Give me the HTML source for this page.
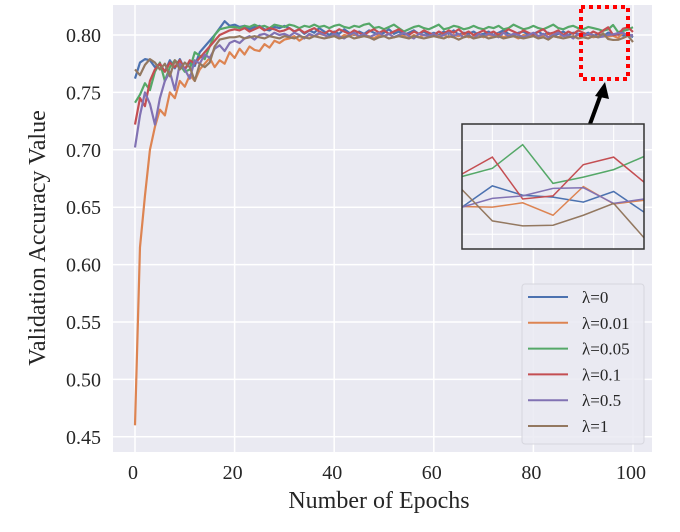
<!DOCTYPE html>
<html><head><meta charset="utf-8"><style>
body{margin:0;background:#fff;width:680px;height:527px;overflow:hidden}
svg text{font-family:"Liberation Serif",serif;fill:#262626}
</style></head><body>
<svg id="chart" width="680" height="527" xmlns="http://www.w3.org/2000/svg">
<rect x="113" y="5" width="539" height="447" fill="#eaeaf2"/>
<g id="grid"></g><g id="ticks"></g><g id="lines"></g>
<text x="379" y="508" font-size="24" text-anchor="middle">Number of Epochs</text>
<text transform="translate(45,238) rotate(-90)" font-size="24" text-anchor="middle">Validation Accuracy Value</text>
<rect x="581" y="7" width="47" height="72" fill="none" stroke="#ff0000" stroke-width="4" stroke-dasharray="4,4"/>
<line x1="590" y1="124" x2="601" y2="94" stroke="#000" stroke-width="4"/>
<polygon points="605,82 595,96 609,99" fill="#000"/>
<g id="inset"></g>
<g id="legend"></g>
</svg>
<script>
const epochs = Array.from({length:101},(_, i)=>i);
const labels = ["λ=0","λ=0.01","λ=0.05","λ=0.1","λ=0.5","λ=1"];
const xTicks = [0,20,40,60,80,100];
const yTicks = [0.45,0.50,0.55,0.60,0.65,0.70,0.75,0.80];
const s0 = [.762,.776,.779,.778,.772,.775,.768,.778,.771,.779,.770,.776,.773,.785,.790,.795,.800,.806,.812,.808,.809,.807,.808,.805,.807,.808,.805,.804,.807,.806,.808,.806,.803,.805,.801,.804,.802,.806,.803,.800,.803,.801,.805,.802,.800,.803,.801,.804,.802,.800,.802,.805,.801,.803,.800,.802,.804,.801,.803,.800,.802,.800,.803,.801,.804,.800,.802,.801,.803,.800,.801,.803,.800,.802,.804,.801,.799,.802,.803,.800,.801,.803,.800,.802,.799,.801,.803,.800,.802,.801,.800,.802,.799,.801,.7987,.8021,.8006,.8003,.7995,.8012,.7979];
const s1 = [.460,.615,.660,.700,.720,.735,.730,.750,.745,.760,.755,.765,.760,.770,.775,.780,.772,.778,.775,.785,.780,.788,.783,.790,.787,.786,.792,.789,.795,.793,.796,.797,.799,.795,.798,.800,.799,.801,.800,.798,.800,.797,.800,.799,.801,.798,.800,.799,.797,.800,.799,.801,.798,.800,.799,.797,.800,.798,.800,.799,.801,.799,.800,.798,.800,.799,.801,.798,.799,.800,.798,.800,.799,.801,.798,.800,.799,.797,.800,.799,.800,.798,.799,.801,.799,.798,.800,.799,.798,.800,.799,.800,.798,.799,.7988,.7987,.7994,.7974,.8020,.7992,.7998];
const s2 = [.741,.748,.758,.752,.768,.776,.760,.772,.778,.774,.768,.770,.785,.782,.779,.790,.800,.805,.806,.807,.807,.806,.808,.807,.809,.807,.808,.806,.809,.808,.807,.809,.808,.806,.808,.807,.809,.807,.808,.806,.808,.809,.807,.806,.808,.807,.809,.810,.806,.807,.805,.807,.809,.806,.803,.805,.807,.808,.806,.805,.807,.809,.805,.806,.808,.807,.805,.806,.808,.806,.805,.807,.806,.808,.805,.806,.809,.807,.805,.806,.808,.806,.805,.807,.809,.806,.805,.807,.808,.806,.805,.807,.806,.805,.8036,.8049,.8087,.8025,.8035,.8047,.8068];
const s3 = [.722,.745,.738,.760,.770,.775,.768,.776,.772,.778,.770,.778,.775,.780,.785,.790,.795,.800,.802,.804,.805,.804,.806,.803,.805,.807,.804,.806,.805,.803,.804,.806,.803,.805,.802,.804,.806,.803,.801,.804,.802,.805,.803,.801,.804,.802,.800,.803,.805,.802,.804,.801,.803,.805,.802,.800,.803,.801,.804,.802,.800,.803,.801,.804,.802,.805,.801,.803,.800,.802,.804,.801,.803,.800,.802,.805,.803,.801,.804,.802,.800,.803,.805,.801,.802,.804,.800,.803,.801,.804,.802,.800,.803,.801,.8040,.8067,.8000,.8005,.8055,.8067,.8027];
const s4 = [.702,.730,.750,.740,.722,.745,.760,.768,.752,.775,.770,.762,.778,.775,.783,.780,.788,.791,.786,.793,.795,.793,.797,.799,.796,.800,.801,.799,.802,.800,.801,.799,.802,.800,.797,.801,.799,.802,.800,.798,.801,.799,.797,.800,.802,.799,.801,.798,.800,.802,.799,.801,.798,.800,.802,.799,.797,.801,.800,.799,.801,.798,.800,.802,.799,.801,.798,.800,.797,.801,.799,.801,.800,.798,.802,.799,.801,.800,.798,.800,.802,.799,.801,.798,.800,.802,.799,.800,.797,.801,.799,.801,.800,.798,.7987,.8001,.8005,.8017,.8018,.7993,.8000];
const s5 = [.770,.765,.774,.779,.776,.770,.775,.764,.778,.770,.776,.772,.760,.775,.772,.776,.790,.796,.797,.798,.798,.799,.797,.798,.799,.798,.797,.799,.798,.797,.799,.798,.797,.799,.798,.797,.799,.798,.797,.798,.799,.797,.798,.799,.797,.798,.799,.798,.796,.798,.799,.797,.798,.799,.798,.797,.799,.798,.797,.798,.799,.798,.797,.799,.798,.796,.798,.799,.797,.798,.799,.797,.798,.799,.797,.798,.799,.798,.797,.798,.799,.797,.798,.796,.799,.798,.797,.798,.799,.797,.798,.797,.799,.798,.8015,.7965,.7957,.7958,.7974,.7993,.7938];
const series = [s0,s1,s2,s3,s4,s5];
const colors = ["#4c72b0","#dd8452","#55a868","#c44e52","#8172b3","#937860"];
const NS="http://www.w3.org/2000/svg";
function mk(tag,attrs,parent){const e=document.createElementNS(NS,tag);for(const k in attrs)e.setAttribute(k,attrs[k]);parent.appendChild(e);return e;}
const xs = v => 135 + v*4.98;
const ys = v => 35 + (0.8 - v)/0.05*57.4;
const grid=document.getElementById('grid'), ticks=document.getElementById('ticks'), lines=document.getElementById('lines');
xTicks.forEach(t=>{
  const g=mk('line',{x1:xs(t),x2:xs(t),y1:5,y2:452,stroke:'#fff','stroke-width':1.5},grid);
  
  
  const tx=mk('text',{x:xs(t)-2,y:479,'font-size':20,'text-anchor':'middle'},ticks);
  tx.textContent=t;
  
  
});
yTicks.forEach(t=>{
  const g=mk('line',{x1:113,x2:652,y1:ys(t),y2:ys(t),stroke:'#fff','stroke-width':1.5},grid);
  
  
  const tx=mk('text',{x:101,y:ys(t)+7,'font-size':20,'text-anchor':'end'},ticks);
  tx.textContent=t.toFixed(2);
  
  
});
series.forEach((s,i)=>{
  const p=mk('polyline',{points:s.map((v,j)=>xs(epochs[j])+','+ys(v)).join(' '),fill:'none',stroke:colors[i],'stroke-width':2.2,'stroke-linejoin':'round'},lines);
  
  
});
const inset=document.getElementById('inset');
const ix0=462, ix1=644, iy0=124, iy1=249;
const ixs = v => ix0 + (v-94)/6*(ix1-ix0);
const iys = v => iy0 + (0.812 - v)/0.02*(iy1-iy0);
mk('rect',{x:ix0,y:iy0,width:ix1-ix0,height:iy1-iy0,fill:'#eaeaf2'},inset);
[95,96,97,98,99].forEach(t=>{const g=mk('line',{x1:ixs(t),x2:ixs(t),y1:iy0,y2:iy1,stroke:'#fff','stroke-width':1},inset);
  
  });
[0.810,0.805,0.800,0.795].forEach(t=>{const g=mk('line',{x1:ix0,x2:ix1,y1:iys(t)+4,y2:iys(t)+4,stroke:'#fff','stroke-width':1},inset);
  
  });
series.forEach((s,i)=>{
  const pts=[];for(let j=94;j<=100;j++)pts.push(ixs(epochs[j])+','+iys(s[j]));
  const p=mk('polyline',{points:pts.join(' '),fill:'none',stroke:colors[i],'stroke-width':1.5},inset);
  
  
});
mk('rect',{x:ix0,y:iy0,width:ix1-ix0,height:iy1-iy0,fill:'none',stroke:'#333','stroke-width':1.5},inset);
const lg=document.getElementById('legend');
mk('rect',{x:522,y:284,width:122,height:160,rx:3,fill:'#eaeaf2','fill-opacity':0.85,stroke:'#d6d6de'},lg);
labels.forEach((l,i)=>{
  const y=297+i*25.8;
  const ln=mk('line',{x1:528,x2:568,y1:y,y2:y,stroke:colors[i],'stroke-width':2},lg);
  
  
  const t=mk('text',{x:582,y:y+6,'font-size':17},lg);
  t.textContent=l;
  
  
});
</script>
</body></html>
